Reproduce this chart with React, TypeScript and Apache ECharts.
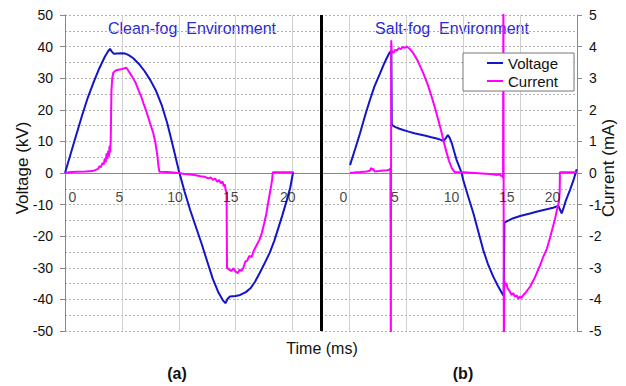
import React, { useEffect, useRef } from 'react';
import * as echarts from 'echarts';

// (a) clean-fog: time in ms, voltage in kV
const voltTimeA = [0, 0.5, 1.0, 1.5, 2.0, 2.5, 3.0, 3.5, 3.8, 3.95, 4.1, 4.3, 4.6, 5.0, 5.3, 5.6, 6.0, 6.5, 7.0, 7.5, 8.0, 8.5, 9.0, 9.5, 10.0, 10.5, 11.0, 11.5, 12.0, 12.5, 13.0, 13.5, 13.9, 14.1, 14.3, 14.5, 15.0, 15.4, 15.9, 16.3, 16.7, 17.1, 17.5, 18.0, 18.4, 18.7, 19.1, 19.5, 19.8, 20.05];
const voltA = [0, 6.1, 12.2, 18.2, 23.8, 28.6, 33, 36.8, 38.6, 39.3, 38.5, 37.7, 37.8, 37.9, 37.8, 37.3, 36.3, 34.5, 32.2, 29.4, 26, 21.5, 15.6, 8.3, 0.8, -5.8, -11.7, -17, -22.3, -28, -33.6, -37.9, -40.4, -41.2, -39.8, -39.1, -38.9, -38.6, -37.7, -36.5, -34.4, -31.7, -28.9, -25.2, -21.4, -18, -13.4, -8.5, -4.6, 0.3];

// (a) clean-fog: time in ms, current in mA
const curTimeA = [0, 0.3, 1.0, 1.8, 2.4, 2.7, 2.9, 3.05, 3.15, 3.3, 3.4, 3.5, 3.58, 3.66, 3.72, 3.8, 3.86, 3.92, 3.97, 4.02, 4.08, 4.15, 4.25, 4.5, 4.9, 5.4, 5.6, 5.9, 6.2, 6.45, 6.7, 6.9, 7.1, 7.3, 7.5, 7.76, 7.95, 8.1, 8.22, 8.3, 9.0, 10.0, 10.5, 11.0, 11.5, 11.9, 12.3, 12.6, 12.8, 13.0, 13.2, 13.4, 13.55, 13.7, 13.85, 13.95, 14.05, 14.12, 14.2, 14.24, 14.4, 14.6, 14.8, 15.0, 15.2, 15.35, 15.5, 15.7, 15.85, 16.0, 16.2, 16.4, 16.6, 16.85, 17.1, 17.3, 17.5, 17.7, 17.85, 18.0, 18.12, 18.2, 18.26, 20.1];
const curA = [0, 0.02, 0.04, 0.05, 0.06, 0.1, 0.13, 0.22, 0.18, 0.32, 0.27, 0.46, 0.34, 0.62, 0.45, 0.7, 0.52, 0.86, 0.65, 1.05, 2.6, 3.0, 3.18, 3.25, 3.28, 3.33, 3.22, 3.05, 2.86, 2.63, 2.42, 2.2, 2.0, 1.78, 1.55, 1.26, 0.95, 0.6, 0.2, 0.04, 0.03, 0.0, -0.03, -0.05, -0.07, -0.1, -0.12, -0.17, -0.14, -0.22, -0.18, -0.28, -0.22, -0.33, -0.27, -0.42, -0.36, -0.55, -0.6, -3.0, -3.05, -3.1, -3.02, -3.12, -3.17, -3.05, -3.1, -2.98, -2.8, -2.78, -2.62, -2.66, -2.45, -2.28, -2.1, -1.9, -1.6, -1.28, -0.95, -0.64, -0.4, -0.22, 0.02, 0.02];

// (b) salt-fog: time in ms, voltage in kV
const voltTimeB = [1.05, 1.5, 1.93, 2.4, 2.8, 3.2, 3.69, 4.0, 4.27, 4.45, 4.6, 4.68, 4.72, 5.0, 5.4, 5.73, 6.2, 6.7, 7.2, 7.7, 8.2, 8.67, 9.1, 9.3, 9.5, 9.65, 9.8, 10.0, 10.2, 10.42, 10.65, 10.86, 11.0, 11.45, 11.9, 12.3, 12.76, 13.2, 13.64, 14.1, 14.5, 14.56, 14.62, 15.0, 15.4, 16.0, 16.87, 17.6, 18.34, 18.9, 19.36, 19.5, 19.65, 19.8, 20.0, 20.38, 20.7, 20.97];
const voltB = [2.5, 7.6, 12.6, 18.5, 23.1, 27.4, 31.5, 34.2, 36.3, 37.6, 38.4, 38.6, 15.2, 14.6, 14.0, 13.6, 13.1, 12.6, 12.2, 11.8, 11.3, 10.9, 10.4, 10.2, 11.2, 12.0, 11.2, 9.4, 6.8, 4.1, 2.0, 0, -2.2, -7.6, -12.8, -18.2, -24.4, -29.1, -32.8, -36.1, -38.6, -38.8, -15.7, -15.0, -14.3, -13.6, -12.8, -12.1, -11.5, -11.0, -10.4, -11.5, -12.8, -11.3, -8.9, -5.4, -2.2, 1.2];

// (b) salt-fog: time in ms, current in mA (spikes run past the axis range)
const curTimeB = [1.05, 1.5, 2.0, 2.5, 2.8, 2.9, 3.0, 3.1, 3.2, 3.6, 4.0, 4.3, 4.5, 4.6, 4.64, 4.67, 4.72, 4.87, 5.0, 5.15, 5.35, 5.5, 5.7, 5.9, 6.03, 6.3, 6.61, 7.0, 7.49, 7.9, 8.23, 8.55, 8.81, 9.05, 9.25, 9.5, 9.75, 10.0, 10.2, 10.3, 11.0, 12.0, 13.0, 13.6, 14.0, 14.2, 14.35, 14.45, 14.5, 14.53, 14.57, 14.61, 14.7, 14.8, 14.9, 15.05, 15.26, 15.4, 15.55, 15.7, 15.84, 16.0, 16.1, 16.28, 16.5, 16.87, 17.2, 17.46, 17.75, 18.04, 18.35, 18.63, 18.85, 19.07, 19.25, 19.42, 19.48, 19.5, 20.97];
const curB = [0, 0.02, 0.03, 0.05, 0.07, 0.16, 0.1, 0.13, 0.05, 0.06, 0.08, 0.09, 0.1, 0.15, -6, 4.2, 3.85, 3.8, 3.9, 3.87, 3.95, 3.92, 3.99, 3.96, 4.0, 3.93, 3.79, 3.55, 3.16, 2.78, 2.41, 2.02, 1.68, 1.35, 1.04, 0.7, 0.38, 0.15, 0.05, 0.02, 0.02, 0.0, -0.02, -0.04, -0.06, -0.04, -0.1, -0.07, -0.16, 6, -6, -3.4, -3.55, -3.48, -3.65, -3.72, -3.86, -3.8, -3.92, -3.87, -3.98, -3.9, -3.96, -3.86, -3.78, -3.6, -3.38, -3.17, -2.92, -2.65, -2.4, -2.05, -1.75, -1.45, -1.15, -0.9, -0.6, 0.02, 0.02];

// panel (b) is plotted after panel (a) on the shared time axis
const PANEL_B_SHIFT = 24;
const DIVIDER_TIME = 22.55;

// time tick labels written under each panel's zero line
const tickLabels = ['0', '5', '10', '15', '20'];
const tickTimeA = [0.64, 4.77, 9.67, 14.56, 19.57];
const tickTimeB = [0.46, 5.0, 9.98, 14.82, 18.85];
const TICK_LABEL_LEVEL = -7.6;

const BLUE = '#1414c8';
const MAGENTA = '#ff00ff';
const TITLE_BLUE = '#2a2ad0';
const FONT = '"Liberation Sans", Arial, sans-serif';

const pairs = (ts: number[], vs: number[], shift = 0) => ts.map((t, i) => [t + shift, vs[i]]);

export default function App() {
  const ref = useRef<HTMLDivElement>(null);

  useEffect(() => {
    if (!ref.current) return;
    const chart = echarts.init(ref.current, undefined, { renderer: 'svg' });

    const tickData = [
      ...tickLabels.map((l, i) => ({ name: l, value: [tickTimeA[i], TICK_LABEL_LEVEL] })),
      ...tickLabels.map((l, i) => ({ name: l, value: [tickTimeB[i] + PANEL_B_SHIFT, TICK_LABEL_LEVEL] })),
    ];

    const lineSeries = (name: string, data: number[][], color: string, yAxisIndex: number) => ({
      type: 'line',
      name,
      data,
      yAxisIndex,
      showSymbol: false,
      symbol: 'none',
      clip: true,
      lineStyle: { color, width: 2 },
      itemStyle: { color },
      z: yAxisIndex === 1 ? 4 : 3,
    });

    const text = (t: string, x: number, y: number, opts: any = {}) => ({
      type: 'text',
      x,
      y,
      rotation: opts.rotation || 0,
      silent: true,
      style: {
        text: t,
        fill: opts.fill || '#111',
        fontSize: opts.fontSize || 16,
        fontWeight: opts.fontWeight || 'normal',
        fontFamily: FONT,
        textAlign: 'center',
        textVerticalAlign: 'middle',
        align: 'center',
        verticalAlign: 'middle',
      },
    });

    chart.setOption({
      animation: false,
      textStyle: { fontFamily: FONT },
      grid: { left: 65, right: 49, top: 15, bottom: 55, containLabel: false, outerBoundsMode: 'none' },
      legend: {
        data: ['Voltage', 'Current'],
        orient: 'vertical',
        left: 463,
        top: 53,
        backgroundColor: '#ffffff',
        borderColor: '#777777',
        borderWidth: 1,
        borderRadius: 0,
        padding: [2, 16, 2, 24],
        itemGap: 2,
        itemWidth: 16,
        itemHeight: 2,
        itemTextGap: 2,
        icon: 'rect',
        textStyle: { fontSize: 15, color: '#111', fontFamily: FONT, lineHeight: 16 },
        z: 10,
      },
      xAxis: {
        type: 'value',
        min: 0,
        max: 45,
        interval: 5,
        axisLine: { show: true, onZero: true, lineStyle: { color: '#888', width: 1 } },
        axisTick: { show: false },
        axisLabel: { show: false },
        splitLine: { show: true, lineStyle: { color: '#d0d0d0', width: 1 } },
      },
      yAxis: [
        {
          type: 'value',
          min: -50,
          max: 50,
          interval: 10,
          axisLine: { show: true, lineStyle: { color: '#888' } },
          axisTick: { show: true, length: 5, lineStyle: { color: '#888' } },
          axisLabel: { fontSize: 14, color: '#111', margin: 12, fontFamily: FONT },
          splitLine: { show: true, lineStyle: { color: '#b0b0b0', type: [2, 2], width: 1 } },
          minorTick: { show: false, splitNumber: 2 },
          minorSplitLine: { show: true, lineStyle: { color: '#b0b0b0', type: [2, 2], width: 1 } },
        },
        {
          type: 'value',
          min: -5,
          max: 5,
          interval: 1,
          position: 'right',
          axisLine: { show: true, lineStyle: { color: '#888' } },
          axisTick: { show: true, length: 5, lineStyle: { color: '#888' } },
          axisLabel: { fontSize: 14, color: '#111', margin: 12, fontFamily: FONT },
          splitLine: { show: false },
        },
      ],
      series: [
        {
          ...lineSeries('Voltage', pairs(voltTimeA, voltA), BLUE, 0),
          markLine: {
            silent: true,
            symbol: 'none',
            label: { show: false },
            lineStyle: { color: '#000', width: 3, type: 'solid' },
            data: [{ xAxis: DIVIDER_TIME }],
          },
        },
        lineSeries('Voltage', pairs(voltTimeB, voltB, PANEL_B_SHIFT), BLUE, 0),
        lineSeries('Current', pairs(curTimeA, curA), MAGENTA, 1),
        lineSeries('Current', pairs(curTimeB, curB, PANEL_B_SHIFT), MAGENTA, 1),
        {
          type: 'scatter',
          name: 'ticks',
          yAxisIndex: 0,
          silent: true,
          symbolSize: 1,
          itemStyle: { color: 'rgba(0,0,0,0)' },
          data: tickData,
          label: {
            show: true,
            position: 'inside',
            formatter: '{b}',
            fontSize: 14,
            color: '#111',
            fontFamily: FONT,
          },
          z: 5,
        },
      ],
      graphic: [
        text('Clean-fog  Environment', 192, 28, { fill: TITLE_BLUE }),
        text('Salt-fog  Environment', 452, 28, { fill: TITLE_BLUE }),
        text('Voltage (kV)', 22, 168, { rotation: Math.PI / 2, fontSize: 17 }),
        text('Current (mA)', 608, 168, { rotation: Math.PI / 2, fontSize: 17 }),
        text('Time (ms)', 322, 348),
        text('(a)', 177, 373, { fontWeight: 'bold' }),
        text('(b)', 463, 373, { fontWeight: 'bold' }),
      ],
    });

    return () => chart.dispose();
  }, []);

  return (
    <div
      ref={ref}
      style={{ position: 'fixed', left: 0, top: 0, width: 626, height: 386, background: '#fff' }}
    />
  );
}
